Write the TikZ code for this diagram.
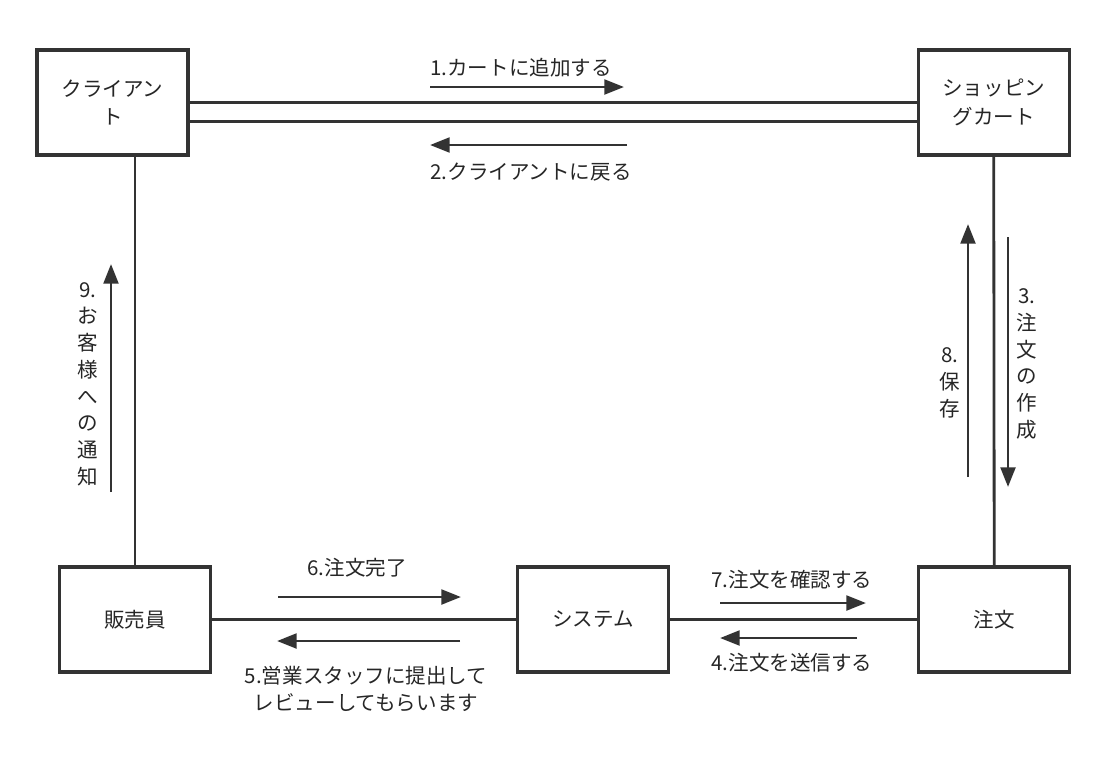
\documentclass[tikz,border=0pt]{standalone}
\usepackage{fontspec}
\setmainfont{Noto Sans CJK JP}
\usetikzlibrary{positioning, arrows.meta}

\definecolor{ink}{HTML}{333333}

\begin{document}
\begin{tikzpicture}[
  x=0.025cm, y=-0.025cm,
  box/.style={
    draw=ink, line width=2.3pt, fill=white, outer sep=0pt,
    minimum width=3.775cm, minimum height=2.625cm, inner sep=2pt,
    align=center, font=\fontsize{14.6}{20.6}\selectfont, text=black!85
  },
  conn/.style={draw=ink, line width=2pt},
  arr/.style={-{Triangle[length=14pt, width=10.5pt]}, line width=2.1pt, color=ink},
  lbl/.style={font=\fontsize{14.6}{19}\selectfont, text=black!85, align=center, inner sep=1pt},
]
\useasboundingbox (0,0) rectangle (1104,765);

% ===== Boxes =====
\node[box] (client) at (112.5,102.5) {クライアン\\ト};
\node[box, right=18.25cm of client] (cart) {ショッピン\\グカート};

\node[box] (sales) at (135,619.5) {販売員};
\node[box, right=7.675cm of sales] (system) {システム};
\node[box, right=6.25cm of system] (order) {注文};

% ===== Connectors =====
\draw[conn] (client.east) -- (cart.west);
\draw[conn] ([yshift=-13.5pt]client.east) -- ([yshift=-13.5pt]cart.west);
\draw[conn] (cart.south) -- (order.north);
\draw[conn] (sales.east) -- (system.west);
\draw[conn] (system.east) -- (order.west);
\draw[conn] (sales.north) -- (sales.north |- client.south);

% ===== Arrow ends =====
\coordinate (s1) at (430,87);   \coordinate (e1) at (624,87);
\coordinate (s2) at (627,145);  \coordinate (e2) at (430,145);
\coordinate (s3) at (1008,237); \coordinate (e3) at (1008,487);
\coordinate (s8) at (968,477);  \coordinate (e8) at (968,224);
\coordinate (s9) at (111,492);  \coordinate (e9) at (111,264);
\coordinate (s6) at (278,597);  \coordinate (e6) at (461,597);
\coordinate (s5) at (460,641);  \coordinate (e5) at (277,641);
\coordinate (s7) at (720,603);  \coordinate (e7) at (866,603);
\coordinate (s4) at (857,638);  \coordinate (e4) at (720,638);

% ===== Arrows =====
\draw[arr] (s1) -- (e1);
\draw[arr] (s2) -- (e2);
\draw[arr] (s3) -- (e3);
\draw[arr] (s8) -- (e8);
\draw[arr] (s9) -- (e9);
\draw[arr] (s6) -- (e6);
\draw[arr] (s5) -- (e5);
\draw[arr] (s7) -- (e7);
\draw[arr] (s4) -- (e4);

% ===== Labels =====
\node[lbl] (l1) at (521,68) {1.カートに追加する};
\node[lbl] (l2) at (531,172) {2.クライアントに戻る};
\node[lbl] (l3) at (1027,364) {3.\\注\\文\\の\\作\\成};
\node[lbl] (l8) at (950,383) {8.\\保\\存};
\node[lbl] (l9) at (88,384) {9.\\お\\客\\様\\へ\\の\\通\\知};
\node[lbl] (l6) at (357,568) {6.注文完了};
\node[lbl] (l5) at (366,689) {5.営業スタッフに提出して\\レビューしてもらいます};
\node[lbl] (l7) at (792,580) {7.注文を確認する};
\node[lbl] (l4) at (792,663) {4.注文を送信する};

\end{tikzpicture}
\end{document}
